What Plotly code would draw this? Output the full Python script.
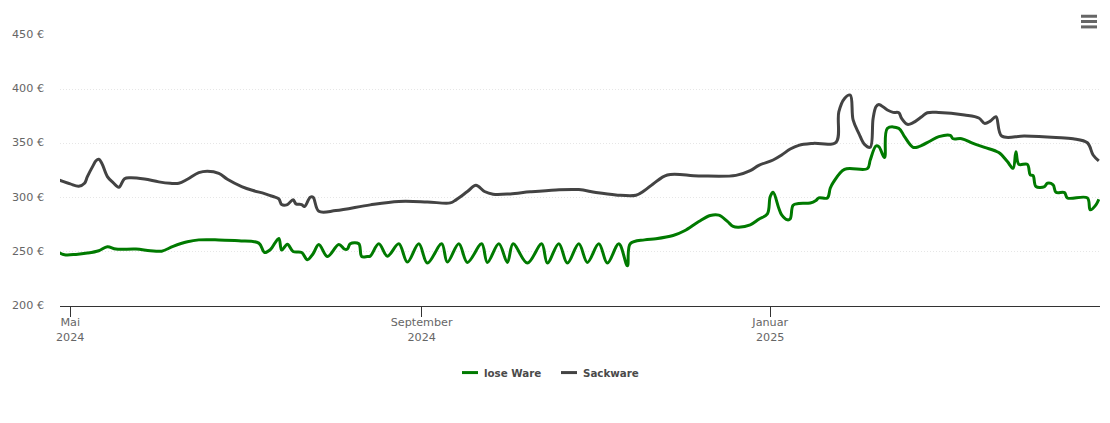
import plotly.graph_objects as go

# price per 1000 l
lose_dates = [
    '2024-04-27', '2024-04-29', '2024-05-03', '2024-05-07', '2024-05-11', '2024-05-14', '2024-05-17', '2024-05-24',
    '2024-05-29', '2024-06-02', '2024-06-06', '2024-06-11', '2024-06-15', '2024-06-22', '2024-06-29', '2024-07-06',
    '2024-07-08', '2024-07-10', '2024-07-13', '2024-07-14', '2024-07-16', '2024-07-18', '2024-07-21', '2024-07-23',
    '2024-07-25', '2024-07-27', '2024-07-30', '2024-08-03', '2024-08-05', '2024-08-06', '2024-08-07', '2024-08-10',
    '2024-08-11', '2024-08-13', '2024-08-14', '2024-08-17', '2024-08-20', '2024-08-24', '2024-08-27', '2024-08-31',
    '2024-09-03', '2024-09-08', '2024-09-10', '2024-09-14', '2024-09-17', '2024-09-22', '2024-09-24', '2024-09-28',
    '2024-10-01', '2024-10-03', '2024-10-08', '2024-10-13', '2024-10-15', '2024-10-19', '2024-10-22', '2024-10-26',
    '2024-10-29', '2024-11-02', '2024-11-05', '2024-11-09', '2024-11-12', '2024-11-13', '2024-11-18', '2024-11-22',
    '2024-11-28', '2024-12-02', '2024-12-07', '2024-12-11', '2024-12-14', '2024-12-17', '2024-12-19', '2024-12-21',
    '2024-12-25', '2024-12-28', '2024-12-31', '2025-01-01', '2025-01-02', '2025-01-04', '2025-01-05', '2025-01-07',
    '2025-01-08', '2025-01-09', '2025-01-11', '2025-01-15', '2025-01-17', '2025-01-18', '2025-01-21', '2025-01-22',
    '2025-01-23', '2025-01-27', '2025-02-04', '2025-02-05', '2025-02-07', '2025-02-08', '2025-02-10', '2025-02-11',
    '2025-02-15', '2025-02-17', '2025-02-20', '2025-02-22', '2025-02-26', '2025-03-01', '2025-03-05', '2025-03-06',
    '2025-03-09', '2025-03-13', '2025-03-17', '2025-03-22', '2025-03-25', '2025-03-27', '2025-03-28', '2025-03-29',
    '2025-04-01', '2025-04-02', '2025-04-03', '2025-04-04', '2025-04-07', '2025-04-08', '2025-04-10', '2025-04-11',
    '2025-04-14', '2025-04-15', '2025-04-22', '2025-04-23', '2025-04-25', '2025-04-26',
]
lose_prices = [
    249.4, 247.3, 247.6, 248.8, 251.0, 254.6, 252.5, 252.5,
    251.0, 250.6, 255.0, 259.2, 261.0, 261.0, 260.2, 258.0,
    249.4, 251.9, 262.3, 251.6, 257.0, 250.3, 249.4, 242.7,
    248.2, 256.8, 245.7, 256.8, 252.5, 252.5, 257.4, 257.4,
    245.7, 245.7, 246.0, 257.4, 246.0, 257.4, 240.5, 257.4,
    239.6, 257.4, 240.5, 257.4, 240.2, 257.4, 240.2, 257.4,
    240.2, 257.4, 239.6, 257.4, 239.6, 257.4, 239.6, 257.4,
    240.2, 257.4, 239.6, 257.4, 237.1, 257.4, 261.0, 262.0,
    265.0, 269.4, 278.0, 283.5, 283.8, 278.0, 273.4, 272.7,
    274.9, 280.0, 285.0, 301.0, 304.9, 290.2, 284.0, 279.5,
    280.4, 293.0, 294.5, 295.0, 297.3, 299.7, 299.7, 308.6,
    313.8, 326.1, 326.7, 334.7, 347.6, 347.0, 336.9, 363.9,
    363.9, 356.2, 346.4, 347.0, 352.2, 356.2, 357.4, 354.3,
    354.3, 350.0, 346.4, 341.5, 333.2, 327.0, 342.4, 330.7,
    330.7, 320.9, 320.3, 310.2, 310.2, 313.2, 311.7, 304.9,
    304.6, 299.7, 299.7, 288.7, 293.3, 298.5,
]
sack_dates = [
    '2024-04-27', '2024-05-01', '2024-05-04', '2024-05-06', '2024-05-07', '2024-05-09', '2024-05-10', '2024-05-11', '2024-05-12',
    '2024-05-14', '2024-05-16', '2024-05-18', '2024-05-20', '2024-05-22', '2024-05-27', '2024-06-01', '2024-06-05',
    '2024-06-08', '2024-06-11', '2024-06-15', '2024-06-18', '2024-06-22', '2024-06-25', '2024-06-30', '2024-07-04',
    '2024-07-08', '2024-07-11', '2024-07-13', '2024-07-14', '2024-07-16', '2024-07-18', '2024-07-19', '2024-07-21',
    '2024-07-22', '2024-07-24', '2024-07-25', '2024-07-27', '2024-08-02', '2024-08-14', '2024-08-24', '2024-09-03',
    '2024-09-11', '2024-09-13', '2024-09-17', '2024-09-20', '2024-09-23', '2024-09-26', '2024-10-02', '2024-10-09',
    '2024-10-18', '2024-10-26', '2024-11-01', '2024-11-08', '2024-11-15', '2024-11-18', '2024-11-21', '2024-11-26',
    '2024-12-07', '2024-12-20', '2024-12-25', '2024-12-28', '2025-01-02', '2025-01-05', '2025-01-08', '2025-01-11',
    '2025-01-16', '2025-01-24', '2025-01-25', '2025-01-27', '2025-01-29', '2025-01-30', '2025-02-01', '2025-02-03',
    '2025-02-05', '2025-02-06', '2025-02-07', '2025-02-08', '2025-02-11', '2025-02-13', '2025-02-15', '2025-02-16',
    '2025-02-18', '2025-02-20', '2025-02-23', '2025-02-25', '2025-03-01', '2025-03-10', '2025-03-15', '2025-03-17',
    '2025-03-19', '2025-03-21', '2025-03-23', '2025-03-31', '2025-04-11', '2025-04-17', '2025-04-22', '2025-04-24',
    '2025-04-26',
]
sack_prices = [
    316.3, 312.6, 310.5, 313.2, 319.4, 329.5, 334.0, 335.3, 332.0,
    319.4, 313.8, 309.5, 317.5, 318.4, 317.2, 314.5, 313.2,
    313.2, 316.9, 323.0, 324.3, 322.4, 316.9, 310.2, 306.5,
    303.7, 301.0, 298.8, 293.6, 293.6, 298.1, 294.2, 293.6,
    291.7, 300.3, 300.3, 287.4, 288.0, 293.3, 296.4, 296.0,
    295.1, 297.9, 305.6, 311.4, 305.6, 303.1, 303.4, 305.3,
    307.1, 307.4, 304.7, 302.5, 302.2, 306.5, 312.6, 320.9,
    320.0, 320.5, 324.9, 329.8, 334.7, 339.3, 344.8, 348.2,
    350.0, 351.0, 379.0, 391.5, 394.6, 371.6, 359.3, 349.1,
    346.4, 373.0, 383.8, 386.0, 380.8, 378.6, 378.3, 373.0,
    367.6, 369.1, 374.6, 378.3, 378.6, 376.2, 373.4, 368.5,
    370.6, 374.6, 356.8, 356.8, 355.5, 354.3, 350.6, 339.3,
    333.8,
]
y_ticks = [200, 250, 300, 350, 400, 450]
y_labels = ['200 €', '250 €', '300 €', '350 €', '400 €', '450 €']
x_ticks = ['2024-05-01', '2024-09-01', '2025-01-01']
x_labels = ['Mai<br>2024', 'September<br>2024', 'Januar<br>2025']

GREEN = '#007a00'
GRAY = '#434343'
FONT = 'DejaVu Sans'


# page pixels to paper coordinates (plot area spans 60-1100 and 34.8-306.3)
def px(x):
    return (x - 60) / 1040


def py(y):
    return (306.3 - y) / 271.5


fig = go.Figure()
fig.add_trace(go.Scatter(x=lose_dates, y=lose_prices, name='lose Ware', mode='lines',
                         line=dict(color=GREEN, width=3, shape='spline', smoothing=1)))
fig.add_trace(go.Scatter(x=sack_dates, y=sack_prices, name='Sackware', mode='lines',
                         line=dict(color=GRAY, width=3, shape='spline', smoothing=1)))

fig.update_xaxes(range=['2024-04-27 10:00', '2025-04-26 10:00'], tickmode='array', tickvals=x_ticks, ticktext=x_labels,
                 ticks='outside', ticklen=10, tickwidth=1, tickcolor='#333333', showline=True, linecolor='#333333',
                 linewidth=1, showgrid=False, zeroline=False, ticklabelstandoff=-4, automargin=False,
                 tickfont=dict(family=FONT, size=11.2, color='#666666'))
fig.update_yaxes(range=[200, 450], tickmode='array', tickvals=y_ticks, ticktext=y_labels, ticks='',
                 showline=False, showgrid=True, gridcolor='#e6e6e6', griddash='1px,2px', gridwidth=1, zeroline=False,
                 ticklabelstandoff=15, ticklabelshift=-1, automargin=False,
                 tickfont=dict(family=FONT, size=11.2, color='#666666'))

# export menu icon
for top in (16, 21.3, 26.7):
    fig.add_shape(type='line', xref='paper', yref='paper', x0=px(1081), x1=px(1097),
                  y0=py(top), y1=py(top), line=dict(color='#666666', width=3))

# legend, short swatches like the original
for name, color, x0 in (('lose Ware', GREEN, 462), ('Sackware', GRAY, 561)):
    fig.add_shape(type='line', xref='paper', yref='paper', x0=px(x0), x1=px(x0 + 16),
                  y0=py(373), y1=py(373), line=dict(color=color, width=3))
    fig.add_annotation(xref='paper', yref='paper', x=px(x0 + 20), y=py(373), text=name, showarrow=False,
                       xanchor='left', yanchor='middle',
                       font=dict(family=FONT, size=10.3, color='#4a4a4a', weight='bold'))

fig.update_layout(
    width=1102, height=407, margin=dict(l=52, r=10, t=27, b=108.5),
    paper_bgcolor='white', plot_bgcolor='white', hovermode=False, showlegend=False,
)

fig.write_html('out.html', config=dict(displayModeBar=False))
